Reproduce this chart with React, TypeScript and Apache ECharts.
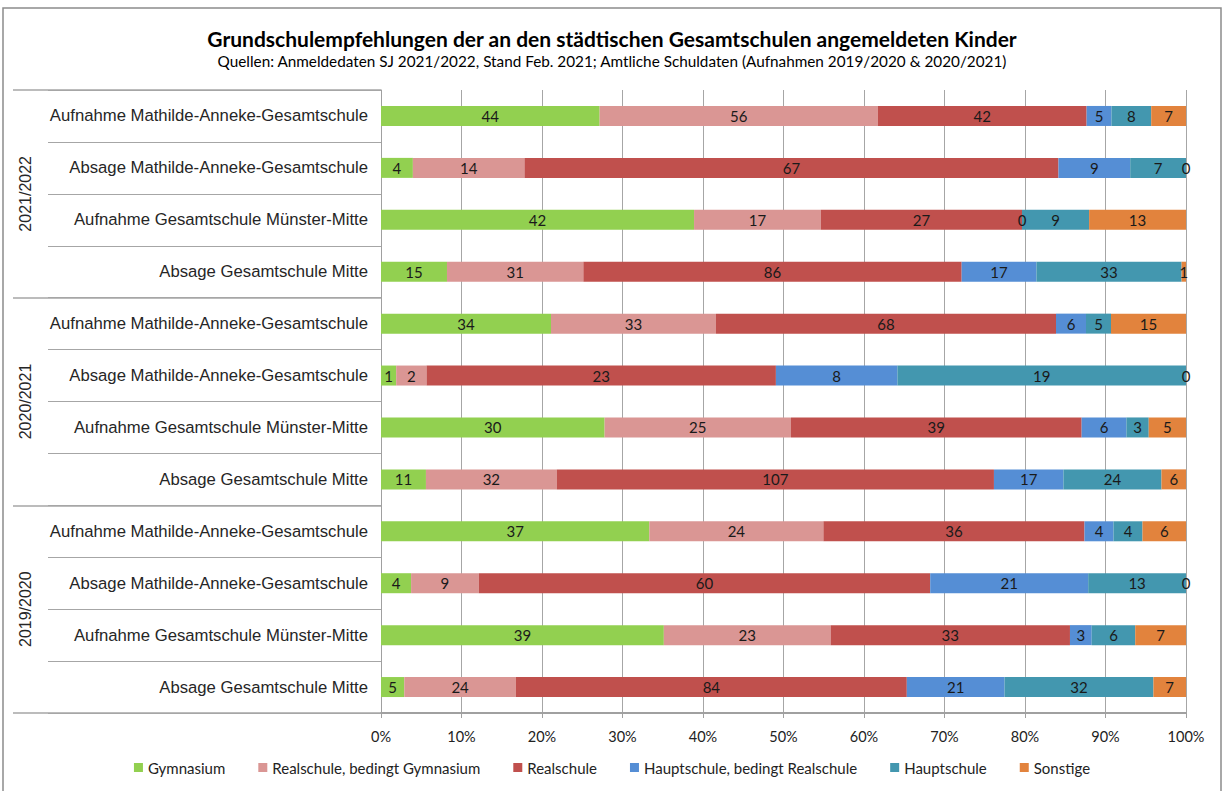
import React, { useEffect, useRef } from "react";
import * as echarts from "echarts";

const titleText = "Grundschulempfehlungen der an den städtischen Gesamtschulen angemeldeten Kinder";
const subtitleText = "Quellen: Anmeldedaten SJ 2021/2022, Stand Feb. 2021; Amtliche Schuldaten (Aufnahmen 2019/2020 & 2020/2021)";

const years = ["2021/2022", "2020/2021", "2019/2020"];
const categories = [
  "Aufnahme Mathilde-Anneke-Gesamtschule",
  "Absage Mathilde-Anneke-Gesamtschule",
  "Aufnahme Gesamtschule Münster-Mitte",
  "Absage Gesamtschule Mitte",
  "Aufnahme Mathilde-Anneke-Gesamtschule",
  "Absage Mathilde-Anneke-Gesamtschule",
  "Aufnahme Gesamtschule Münster-Mitte",
  "Absage Gesamtschule Mitte",
  "Aufnahme Mathilde-Anneke-Gesamtschule",
  "Absage Mathilde-Anneke-Gesamtschule",
  "Aufnahme Gesamtschule Münster-Mitte",
  "Absage Gesamtschule Mitte",
];
const seriesNames = [
  "Gymnasium",
  "Realschule, bedingt Gymnasium",
  "Realschule",
  "Hauptschule, bedingt Realschule",
  "Hauptschule",
  "Sonstige",
];
const gymnasium = [44, 4, 42, 15, 34, 1, 30, 11, 37, 4, 39, 5];
const realschuleBedingtGym = [56, 14, 17, 31, 33, 2, 25, 32, 24, 9, 23, 24];
const realschule = [42, 67, 27, 86, 68, 23, 39, 107, 36, 60, 33, 84];
const hauptschuleBedingtReal = [5, 9, 0, 17, 6, 8, 6, 17, 4, 21, 3, 21];
const hauptschule = [8, 7, 9, 33, 5, 19, 3, 24, 4, 13, 6, 32];
const sonstige = [7, 0, 13, 1, 15, 0, 5, 6, 6, 0, 7, 7];
const counts = [gymnasium, realschuleBedingtGym, realschule, hauptschuleBedingtReal, hauptschule, sonstige];
const colors = ["#92D050", "#DA9694", "#C0504D", "#558ED5", "#4397AF", "#E2833D"];

const xMin = 0;
const xMax = 100;
const xInterval = 10;

const CAL = "Lato, 'Open Sans', sans-serif";
const ARIAL = "'Liberation Sans', Arial, sans-serif";

export default function App() {
  const ref = useRef<HTMLDivElement>(null);
  useEffect(() => {
    if (!ref.current) return;
    const chart = echarts.init(ref.current, undefined, { renderer: "svg" });
    const totals = categories.map((_, i) => counts.reduce((s, arr) => s + arr[i], 0));
    const series = seriesNames.map((name, si) => ({
      name,
      type: "bar",
      stack: "total",
      barWidth: 20,
      clip: false,
      itemStyle: { color: colors[si] },
      label: {
        show: true,
        position: "inside",
        color: "#1a1a1a",
        fontSize: 15,
        fontFamily: CAL,
        formatter: (p: any) => String(counts[si][p.dataIndex]),
      },
      emphasis: { disabled: true },
      data: counts[si].map((v, i) => (v / totals[i]) * 100),
    }));
    chart.setOption({
      animation: false,
      backgroundColor: "#ffffff",
      title: {
        text: titleText,
        subtext: subtitleText,
        left: "center",
        top: 23,
        itemGap: 4,
        textStyle: { fontFamily: CAL, fontWeight: "bold", fontSize: 21, color: "#000" },
        subtextStyle: { fontFamily: CAL, fontSize: 15.3, color: "#000" },
      },
      legend: {
        bottom: 11,
        left: "center",
        itemWidth: 9,
        itemHeight: 9,
        itemGap: 33,
        icon: "rect",
        textStyle: { fontFamily: CAL, fontSize: 15, color: "#222" },
        data: seriesNames,
      },
      grid: { left: 381, right: 38, top: 90, bottom: 78 },
      xAxis: {
        type: "value",
        min: xMin,
        max: xMax,
        interval: xInterval,
        axisLine: { show: true, lineStyle: { color: "#a0a0a0", width: 2 } },
        axisTick: { show: true, length: 5, lineStyle: { color: "#a0a0a0" } },
        splitLine: { show: true, lineStyle: { color: "#a6a6a6", width: 1 } },
        axisLabel: {
          margin: 16,
          fontFamily: CAL,
          fontSize: 14.5,
          color: "#222",
          formatter: (v: number) => `${v}%`,
        },
      },
      yAxis: [
        {
          type: "category",
          inverse: true,
          data: categories,
          axisLine: { show: true, lineStyle: { color: "#a0a0a0" } },
          axisTick: { show: true, length: 333, interval: 0, lineStyle: { color: "#a6a6a6" } },
          axisLabel: { margin: 13, fontFamily: ARIAL, fontSize: 16.7, color: "#262626" },
        },
        {
          type: "category",
          inverse: true,
          position: "left",
          data: years,
          axisLine: { show: false },
          axisTick: { show: true, length: 368, interval: 0, lineStyle: { color: "#a6a6a6", width: 1.5 } },
          axisLabel: { margin: 348, rotate: 90, fontFamily: ARIAL, fontSize: 16, color: "#262626" },
        },
      ],
      graphic: [
        {
          type: "rect",
          shape: { x: 3, y: 8, width: 1218, height: 800 },
          style: { fill: "none", stroke: "#8c8c8c", lineWidth: 1.5 },
          silent: true,
        },
      ],
      series,
    });
    return () => chart.dispose();
  }, []);
  return (
    <div
      ref={ref}
      style={{ position: "fixed", left: 0, top: 0, width: 1224, height: 791 }}
    />
  );
}
